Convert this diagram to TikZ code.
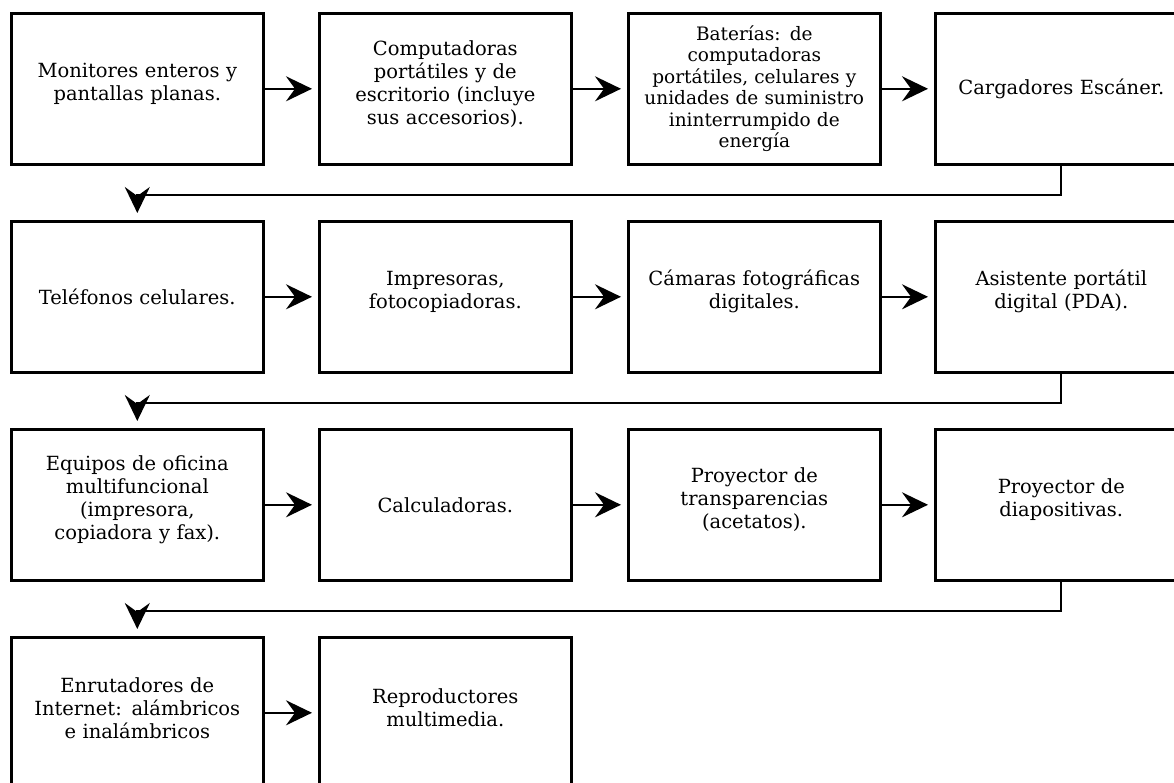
\documentclass[tikz,border=0pt]{standalone}
\usepackage{fontspec}
\setmainfont{DejaVu Serif}
\usepackage{tikz}
\usetikzlibrary{arrows.meta}

\tikzset{
  item/.style={draw, line width=2.6pt, anchor=north west, inner sep=0pt,
    minimum width=252pt, minimum height=151pt, text width=250pt, align=center,
    font=\fontsize{19.5}{23}\selectfont},
  small/.style={font=\fontsize{18.5}{21.5}\selectfont},
  lift/.style={execute at end node={\par\vspace{10pt}}},
  flow/.style={line width=2pt, -{Stealth[length=26pt,width=25pt,inset=9pt]}, shorten >=6pt},
  down/.style={flow, shorten >=7pt},
}

\begin{document}
\begin{tikzpicture}[x=1pt, y=-1pt]
    \useasboundingbox (0,0) rectangle (1174,783);

    \node[item, lift] at (10, 12) (mon) {Monitores enteros y\\ pantallas planas.};
    \node[item, lift] at (318, 12) (comp) {Computadoras\\ port\'atiles y de\\ escritorio (incluye\\ sus accesorios).};
    \node[item, small] at (627, 12) (bat) {Bater\'ias: de\\ computadoras\\ port\'atiles, celulares y\\ unidades de suministro\\ ininterrumpido de\\ energ\'ia};
    \node[item] at (934, 12) (carg) {Cargadores Esc\'aner.};

    \node[item] at (10, 220) (tel) {Tel\'efonos celulares.};
    \node[item, lift] at (318, 220) (imp) {Impresoras,\\ fotocopiadoras.};
    \node[item, lift] at (627, 220) (cam) {C\'amaras fotogr\'aficas\\ digitales.};
    \node[item, lift] at (934, 220) (pda) {Asistente port\'atil\\ digital (PDA).};

    \node[item, lift] at (10, 428) (ofi) {Equipos de oficina\\ multifuncional\\ (impresora,\\ copiadora y fax).};
    \node[item] at (318, 428) (calc) {Calculadoras.};
    \node[item, lift] at (627, 428) (tra) {Proyector de\\ transparencias\\ (acetatos).};
    \node[item, lift] at (934, 428) (dia) {Proyector de\\ diapositivas.};

    \node[item, lift] at (10, 636) (rout) {Enrutadores de\\ Internet: al\'ambricos\\ e inal\'ambricos};
    \node[item, lift] at (318, 636) (rep) {Reproductores\\ multimedia.};

    \draw[flow] (mon) edge (comp);
    \draw[flow] (comp) edge (bat);
    \draw[flow] (bat) edge (carg);
    \draw[down] (carg.south) -- ++(0, 29) -| (tel.north);

    \draw[flow] (tel) edge (imp);
    \draw[flow] (imp) edge (cam);
    \draw[flow] (cam) edge (pda);
    \draw[down] (pda.south) -- ++(0, 29) -| (ofi.north);

    \draw[flow] (ofi) edge (calc);
    \draw[flow] (calc) edge (tra);
    \draw[flow] (tra) edge (dia);
    \draw[down] (dia.south) -- ++(0, 29) -| (rout.north);

    \draw[flow] (rout) edge (rep);
\end{tikzpicture}
\end{document}
